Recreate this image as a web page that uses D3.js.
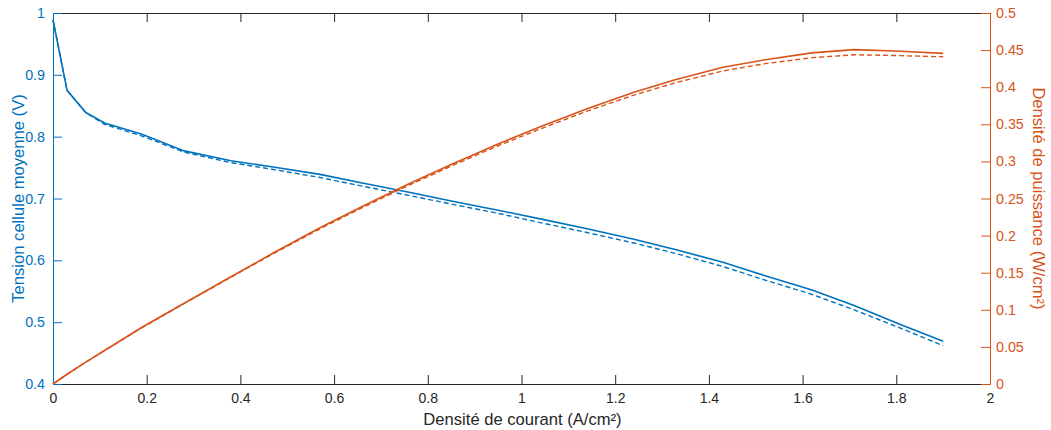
<!DOCTYPE html>
<html><head><meta charset="utf-8">
<script src="https://cdn.jsdelivr.net/npm/d3@7"></script>
<style>body{margin:0;background:#fff;} svg{display:block;} text{font-family:"Liberation Sans",Arial,sans-serif;}</style>
</head><body>
<svg id="c" width="1051" height="430"></svg>
<script>
const current = [0,0.03,0.07,0.11,0.19,0.28,0.38,0.47,0.57,0.66,0.76,0.85,0.95,1.04,1.14,1.24,1.33,1.43,1.52,1.62,1.71,1.81,1.90];
const voltageSolid = [0.989,0.875,0.839,0.822,0.804,0.777,0.761,0.751,0.739,0.725,0.710,0.696,0.681,0.667,0.651,0.634,0.617,0.597,0.575,0.552,0.527,0.496,0.469];
const voltageDashed = [0.989,0.875,0.839,0.820,0.801,0.775,0.758,0.747,0.734,0.720,0.705,0.691,0.676,0.661,0.645,0.628,0.611,0.590,0.568,0.545,0.520,0.490,0.462];
const powerSolid = [0,0.0131,0.0294,0.0452,0.0764,0.1088,0.1446,0.1765,0.2106,0.2393,0.2698,0.2958,0.3235,0.3468,0.3711,0.3931,0.4103,0.4269,0.4370,0.4462,0.4506,0.4485,0.4456];
const powerDashed = [0,0.0131,0.0294,0.0451,0.0761,0.1085,0.1440,0.1755,0.2092,0.2376,0.2679,0.2937,0.3211,0.3437,0.3677,0.3894,0.4063,0.4219,0.4317,0.4398,0.4437,0.4425,0.4410];
const xTicks = [0,0.2,0.4,0.6,0.8,1,1.2,1.4,1.6,1.8,2];
const yLeftTicks = [0.4,0.5,0.6,0.7,0.8,0.9,1];
const yRightTicks = [0,0.05,0.1,0.15,0.2,0.25,0.3,0.35,0.4,0.45,0.5];

const blue = "#0072BD", orange = "#D95319", dark = "#262626";
const L = 53, R = 990, T = 13, B = 384;
const svg = d3.select("#c");
const x = d3.scaleLinear().domain([0,2]).range([L,R]);
const yL = d3.scaleLinear().domain([0.4,1]).range([B,T]);
const yR = d3.scaleLinear().domain([0,0.5]).range([B,T]);
const fmt = d => String(+d.toFixed(2));

// bottom axis
const gx = svg.append("g").attr("transform",`translate(0,${B})`)
  .call(d3.axisBottom(x).tickValues(xTicks).tickFormat(fmt).tickSizeInner(-9).tickSizeOuter(0).tickPadding(6));
gx.select(".domain").attr("stroke",dark);
gx.selectAll(".tick line").attr("stroke",dark);
gx.selectAll("text").attr("fill",dark).attr("font-size",14).attr("dy","0.9em");
// top axis
const gt = svg.append("g").attr("transform",`translate(0,${T})`)
  .call(d3.axisTop(x).tickValues(xTicks).tickFormat("").tickSizeInner(-9).tickSizeOuter(0));
gt.select(".domain").attr("stroke",dark);
gt.selectAll(".tick line").attr("stroke",dark);
// left axis
const gl = svg.append("g").attr("transform",`translate(${L},0)`)
  .call(d3.axisLeft(yL).tickValues(yLeftTicks).tickFormat(fmt).tickSizeInner(-9).tickSizeOuter(0).tickPadding(8));
gl.select(".domain").attr("stroke",blue);
gl.selectAll(".tick line").attr("stroke",blue);
gl.selectAll("text").attr("fill",blue).attr("font-size",14.3);
// right axis
const gr = svg.append("g").attr("transform",`translate(${R},0)`)
  .call(d3.axisRight(yR).tickValues(yRightTicks).tickFormat(fmt).tickSizeInner(-9).tickSizeOuter(0).tickPadding(6));
gr.select(".domain").attr("stroke",orange);
gr.selectAll(".tick line").attr("stroke",orange);
gr.selectAll("text").attr("fill",orange).attr("font-size",14.3);

// lines
const lineL = d3.line().x((d,i)=>x(current[i])).y(d=>yL(d));
const lineR = d3.line().x((d,i)=>x(current[i])).y(d=>yR(d));
svg.append("path").datum(voltageDashed).attr("d",lineL).attr("fill","none").attr("stroke",blue).attr("stroke-width",1.4).attr("stroke-dasharray","5,3");
svg.append("path").datum(voltageSolid).attr("d",lineL).attr("fill","none").attr("stroke",blue).attr("stroke-width",1.6);
svg.append("path").datum(powerDashed).attr("d",lineR).attr("fill","none").attr("stroke",orange).attr("stroke-width",1.4).attr("stroke-dasharray","5,3");
svg.append("path").datum(powerSolid).attr("d",lineR).attr("fill","none").attr("stroke",orange).attr("stroke-width",1.6);

// labels
svg.append("text").attr("x",(L+R)/2+1).attr("y",425).attr("text-anchor","middle").attr("fill",dark).attr("font-size",16.6).text("Densité de courant (A/cm²)");
svg.append("text").attr("transform",`translate(24,${(T+B)/2}) rotate(-90)`).attr("text-anchor","middle").attr("fill",blue).attr("font-size",16.6).text("Tension cellule moyenne (V)");
svg.append("text").attr("transform",`translate(1033,${(T+B)/2}) rotate(90)`).attr("text-anchor","middle").attr("fill",orange).attr("font-size",16.6).text("Densité de puissance (W/cm²)");
</script>
</body></html>
